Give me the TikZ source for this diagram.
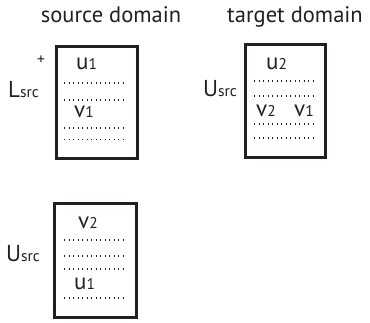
\documentclass[tikz,border=0pt]{standalone}
\usepackage{fontspec}
\setmainfont{PT Sans}
\definecolor{ink}{HTML}{231F20}
\newcommand{\lgtxt}[1]{{\fontsize{23}{25}\selectfont #1}}
\newcommand{\smtxt}[1]{{\fontsize{15.5}{17}\selectfont #1}}
\begin{document}
\begin{tikzpicture}[x=1pt,y=-1pt,
  frame/.style={draw=ink,line width=2.8pt,inner sep=0pt,anchor=north west},
  dots/.style={draw=ink,line width=1.6pt,dash pattern=on 1.4pt off 3.1pt},
  lbl/.style={inner sep=0pt,anchor=base west,text=ink},
  title/.style={inner sep=0pt,anchor=base,text=ink,font=\fontsize{22.5}{24}\selectfont}]
\useasboundingbox (0,0) rectangle (370,323);
% titles
\node[title] (t1) at (111,23) {source domain};
\node[title] (t2) at (295,23) {target domain};
% box 1
\node[frame,minimum width=81pt,minimum height=112pt] (b1) at (55,45) {};
\node[lbl] (u1a) at (76,70) {\lgtxt{u}\smtxt{1}};
\node[lbl] (v1a) at (74,118) {\lgtxt{v}\smtxt{1}};
\foreach \yy in {83,100,128,139.5}{\draw[dots] (64,\yy) -- (125,\yy);}
\node[lbl] (lsrc) at (8,98) {\lgtxt{L}\smtxt{src}};
\node[lbl] (plus) at (37,65) {\smtxt{+}};
% box 2
\node[frame,minimum width=80pt,minimum height=113pt] (b2) at (244,43) {};
\node[lbl] (u2b) at (266,70) {\lgtxt{u}\smtxt{2}};
\node[lbl] (v2b) at (256,117) {\lgtxt{v}\smtxt{2}};
\node[lbl] (v1b) at (294,117) {\lgtxt{v}\smtxt{1}};
\foreach \yy in {81,96,124,138}{\draw[dots] (254,\yy) -- (313,\yy);}
\node[lbl] (usrcb) at (203,97) {\lgtxt{U}\smtxt{src}};
% box 3
\node[frame,minimum width=82pt,minimum height=114pt] (b3) at (53,202) {};
\node[lbl] (v2c) at (78,229) {\lgtxt{v}\smtxt{2}};
\node[lbl] (u1c) at (74,290) {\lgtxt{u}\smtxt{1}};
\foreach \yy in {240,256,269,298}{\draw[dots] (64,\yy) -- (123,\yy);}
\node[lbl] (usrcc) at (6,262) {\lgtxt{U}\smtxt{src}};
\end{tikzpicture}
\end{document}
